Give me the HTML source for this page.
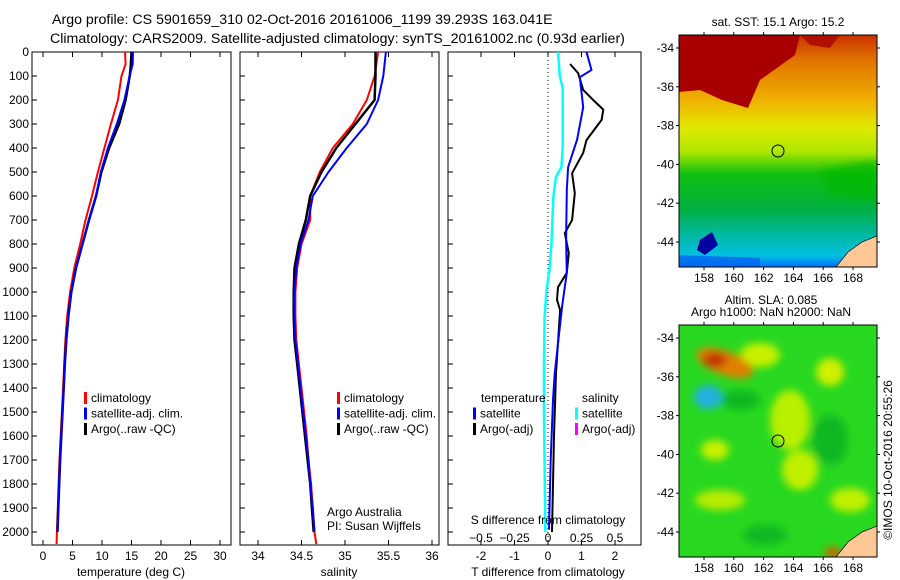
<!DOCTYPE html>
<html><head><meta charset="utf-8"><style>
body{margin:0;background:#fff;}
svg{display:block;font-family:"Liberation Sans",sans-serif;}
text{fill:#000;}
</style></head><body>
<svg id="chart" width="900" height="580" viewBox="0 0 900 580" xmlns="http://www.w3.org/2000/svg">
<defs>
<linearGradient id="sstGrad" x1="0" y1="0" x2="0" y2="1">
<stop offset="0" stop-color="#c83000"/><stop offset="0.1" stop-color="#e07000"/><stop offset="0.28" stop-color="#f0b000"/><stop offset="0.4" stop-color="#e0e800"/><stop offset="0.5" stop-color="#b0e800"/><stop offset="0.6" stop-color="#10c010"/><stop offset="0.75" stop-color="#00b040"/><stop offset="0.86" stop-color="#00b8a0"/><stop offset="0.95" stop-color="#00c0e0"/><stop offset="1" stop-color="#0070ff"/>
</linearGradient>
<filter id="blur4"><feGaussianBlur stdDeviation="4"/></filter>
<clipPath id="clipM1"><rect x="679" y="35" width="198" height="232"/></clipPath>
<clipPath id="clipM2"><rect x="679" y="325" width="198" height="232"/></clipPath>
</defs>
<g font-size="14.2">
<text x="52" y="24">Argo profile: CS 5901659_310 02-Oct-2016 20161006_1199 39.293S 163.041E</text>
<text x="50" y="43">Climatology: CARS2009. Satellite-adjusted climatology: synTS_20161002.nc (0.93d earlier)</text>
</g>
<g id="p1"></g>
<g id="p2"></g>
<g id="p3"></g>

<g>
<text x="778" y="26" font-size="12" text-anchor="middle">sat. SST: 15.1 Argo: 15.2</text>
<g clip-path="url(#clipM1)">
<rect x="679" y="35" width="198" height="232" fill="url(#sstGrad)"/>
<polygon points="679,35 800,35 795,55 760,80 748,108 722,100 700,90 679,92" fill="#a80000"/>
<polygon points="800,35 840,35 830,48 810,45" fill="#b01000"/>
<polygon points="820,170 877,160 877,200 830,195" fill="#00b800" opacity="0.7" filter="url(#blur4)"/>
<polygon points="700,240 712,232 718,245 705,255 697,250" fill="#0000a0"/>
<polygon points="679,255 760,258 760,267 679,267" fill="#0060f0" opacity="0.7"/>
<polygon points="836,267 848,252 862,242 877,236 877,267" fill="#fdc896" stroke="#000" stroke-width="0.7"/>
</g>
<rect x="679" y="35" width="198" height="232" fill="none" stroke="#000" stroke-width="1"/>
<circle cx="778" cy="151" r="6" fill="none" stroke="#000" stroke-width="1"/>
<g id="m1ticks"></g>
</g>

<g>
<text x="771" y="304" font-size="12" text-anchor="middle">Altim. SLA: 0.085</text>
<text x="771" y="316" font-size="12" text-anchor="middle">Argo h1000: NaN h2000: NaN</text>
<g clip-path="url(#clipM2)">
<rect x="679" y="325" width="198" height="232" fill="#28d820"/>
<g filter="url(#blur4)">
<ellipse cx="760" cy="355" rx="20" ry="12" fill="#c8f000"/>
<ellipse cx="830" cy="372" rx="14" ry="14" fill="#d0f000"/>
<ellipse cx="790" cy="420" rx="20" ry="30" fill="#b8f000"/>
<ellipse cx="715" cy="450" rx="14" ry="10" fill="#c8f000"/>
<ellipse cx="800" cy="470" rx="18" ry="20" fill="#c0f000"/>
<ellipse cx="850" cy="500" rx="20" ry="12" fill="#c0f000"/>
<ellipse cx="720" cy="500" rx="25" ry="10" fill="#b8ec00"/>
<ellipse cx="740" cy="400" rx="20" ry="10" fill="#10b820"/>
<ellipse cx="830" cy="440" rx="18" ry="25" fill="#10b820"/>
<ellipse cx="765" cy="535" rx="22" ry="10" fill="#10b820"/>
<ellipse cx="725" cy="363" rx="30" ry="12" fill="#e08000" transform="rotate(20 725 363)"/>
<ellipse cx="715" cy="360" rx="12" ry="7" fill="#c03000"/>
<ellipse cx="708" cy="397" rx="14" ry="12" fill="#20b0e0"/>
<ellipse cx="833" cy="553" rx="8" ry="6" fill="#d06000"/>
</g>
<polygon points="836,557 848,542 862,532 877,526 877,557" fill="#fdc896" stroke="#000" stroke-width="0.7"/>
</g>
<rect x="679" y="325" width="198" height="232" fill="none" stroke="#000" stroke-width="1"/>
<circle cx="778" cy="441" r="6" fill="none" stroke="#000" stroke-width="1"/>
<g id="m2ticks"></g>
</g>
<text transform="translate(892 460) rotate(-90)" font-size="12" text-anchor="middle">©IMOS 10-Oct-2016 20:55:26</text>
</svg>
<script>
// ---- data ----
const depthTicks = [0,100,200,300,400,500,600,700,800,900,1000,1100,1200,1300,1400,1500,1600,1700,1800,1900,2000];
const tempTicks = [0,5,10,15,20,25,30];
const salTicks = [34,34.5,35,35.5,36];
const tdiffTicks = [-2,-1,0,1,2];
const sdiffTicks = [-0.5,-0.25,0,0.25,0.5];

const tDepth = [0,50,80,100,200,300,400,500,600,700,800,900,1000,1100,1200,1300,1400,1500,1600,1700,1800,1900,2000,2050];
const tClim =  [13.9,14.0,13.6,13.3,12.7,11.5,10.4,9.3,8.3,7.2,6.3,5.3,4.6,4.1,3.8,3.6,3.4,3.2,3.0,2.8,2.65,2.5,2.35,2.3];
const tSat =   [15.25,15.2,14.9,14.7,13.8,12.5,11.0,9.8,9.0,7.8,6.7,5.6,4.8,4.3,3.95,3.7,3.5,3.3,3.1,2.9,2.75,2.6,2.45,null];
const tArgo =  [15.0,14.9,14.8,14.7,14.0,12.9,11.2,9.9,9.0,7.8,6.7,5.6,4.8,4.3,3.95,3.7,3.5,3.3,3.1,2.9,2.75,2.6,2.45,null];

const sDepth = [0,100,200,300,400,500,600,700,800,900,1000,1100,1200,1300,1400,1500,1600,1700,1800,1900,2000,2050];
const sClim = [35.38,35.34,35.25,35.09,34.86,34.71,34.6,34.6,34.5,34.45,34.43,34.43,34.44,34.47,34.5,34.53,34.56,34.58,34.61,34.63,34.65,34.67];
const sSat =  [35.47,35.44,35.38,35.25,35.02,34.81,34.63,34.58,34.49,34.44,34.42,34.42,34.43,34.46,34.49,34.52,34.55,34.58,34.6,34.63,34.65,null];
const sArgo = [35.35,35.35,35.34,35.12,34.9,34.73,34.6,34.55,34.47,34.42,34.41,34.41,34.42,34.45,34.48,34.51,34.54,34.57,34.6,34.62,34.64,null];

const dTDepthSat = [0,75,105,230,365,480,575,783,920,1060,1340,1450,1700,1990];
const dTSat =      [1.15,1.3,0.95,1.05,0.87,0.6,0.56,0.54,0.56,0.42,0.2,0.15,0.08,0.03];
const dTDepthArgo = [50,88,158,200,240,283,367,420,505,588,700,755,838,920,980,1033,1075,1340,1600,2000];
const dTArgo =      [0.66,0.9,1.05,1.35,1.65,1.6,1.15,1.05,0.72,0.8,0.72,0.5,0.62,0.56,0.3,0.27,0.36,0.24,0.18,0.12];
const dSDepth = [0,100,150,250,400,480,520,600,800,900,1000,1100,1300,1500,2000];
const dSSat =   [0.075,0.088,0.11,0.11,0.11,0.1,0.06,0.04,0.025,0.012,-0.012,-0.025,-0.03,-0.03,-0.02];

// ---- helpers ----
const NS = "http://www.w3.org/2000/svg";
const yD = d => 52 + d*0.24;
const xT = v => 43 + v*5.9;
const xS = v => 258 + (v-34)*87;
const xDT = v => 548 + v*33.5;
const xDS = v => 548 + v*134;
function mk(parent, tag, attrs, txt){
  const el = document.createElementNS(NS, tag);
  for (const k in attrs) el.setAttribute(k, attrs[k]);
  if (txt !== undefined) el.textContent = txt;
  parent.appendChild(el); return el;
}
function line(parent, xs, ds, xf, color, w, name){
  let d = "", pen = false;
  for (let i=0;i<xs.length;i++){
    if (xs[i]===null){pen=false;continue;}
    d += (pen?"L":"M") + xf(xs[i]).toFixed(1) + "," + yD(ds[i]).toFixed(1);
    pen = true;
  }
  const p = mk(parent,"path",{d:d,fill:"none",stroke:color,"stroke-width":w,"stroke-linejoin":"round"});
  
  
}
function panel(g, x0, x1, xticks, xf, xlab, yLabels){
  const fr = mk(g,"rect",{x:x0,y:52,width:x1-x0,height:493,fill:"none",stroke:"#000","stroke-width":1});
  
  
  depthTicks.forEach(d=>{
    mk(g,"line",{x1:x0,x2:x0+5,y1:yD(d),y2:yD(d),stroke:"#000"});
    if (yLabels){
      const t = mk(g,"text",{x:x0-3,y:yD(d)+4,"font-size":12,"text-anchor":"end"}, String(d));
      
      
    }
  });
  xticks.forEach(v=>{
    const x = xf(v);
    mk(g,"line",{x1:x,x2:x,y1:545,y2:540,stroke:"#000"});
    mk(g,"line",{x1:x,x2:x,y1:52,y2:57,stroke:"#000"});
    if (xlab){
      const t = mk(g,"text",{x:x,y:560,"font-size":12,"text-anchor":"middle"}, String(v));
      
      
    }
  });
}
function legend(g, x, y, items){
  items.forEach((it,i)=>{
    const yy = y + i*15.5;
    mk(g,"rect",{x:x,y:yy-10,width:3,height:12,fill:it[1]});
    const t = mk(g,"text",{x:x+7,y:yy,"font-size":12}, it[0]);
    
    
  });
}

// panel 1
const p1 = document.getElementById("p1");
panel(p1, 32, 231, tempTicks, xT, true, true);
line(p1, tClim, tDepth, xT, "#f00", 2, "temp-climatology-line");
line(p1, tArgo, tDepth, xT, "#000", 2.5, "temp-argo-line");
line(p1, tSat, tDepth, xT, "#00f", 2, "temp-satellite-line");
legend(p1, 84, 402, [["climatology","#f00"],["satellite-adj. clim.","#00f"],["Argo(..raw -QC)","#000"]]);
let t = mk(p1,"text",{x:131,y:576,"font-size":12,"text-anchor":"middle"},"temperature (deg C)");
 

// panel 2
const p2 = document.getElementById("p2");
panel(p2, 240, 439, salTicks, xS, true, false);
line(p2, sClim, sDepth, xS, "#f00", 2, "sal-climatology-line");
line(p2, sArgo, sDepth, xS, "#000", 2.5, "sal-argo-line");
line(p2, sSat, sDepth, xS, "#00f", 2, "sal-satellite-line");
legend(p2, 337, 402, [["climatology","#f00"],["satellite-adj. clim.","#00f"],["Argo(..raw -QC)","#000"]]);
t = mk(p2,"text",{x:327,y:516,"font-size":12},"Argo Australia");
 
t = mk(p2,"text",{x:327,y:530,"font-size":12},"PI: Susan Wijffels");
 
t = mk(p2,"text",{x:339,y:576,"font-size":12,"text-anchor":"middle"},"salinity");
 

// panel 3
const p3 = document.getElementById("p3");
panel(p3, 448, 641, tdiffTicks, xDT, true, false);
mk(p3,"line",{x1:548,x2:548,y1:52,y2:545,stroke:"#000","stroke-dasharray":"1,3"});
line(p3, dSSat, dSDepth, xDS, "#0ff", 2.5, "sal-diff-satellite-line");
line(p3, dTArgo, dTDepthArgo, xDT, "#000", 2, "temp-diff-argo-line");
line(p3, dTSat, dTDepthSat, xDT, "#00f", 2, "temp-diff-satellite-line");
t = mk(p3,"text",{x:481,y:402,"font-size":12},"temperature");
 
t = mk(p3,"text",{x:582,y:402,"font-size":12},"salinity");
 
legend(p3, 473, 417.5, [["satellite","#00f"],["Argo(-adj)","#000"]]);
legend(p3, 575, 417.5, [["satellite","#0ff"],["Argo(-adj)","#f0f"]]);
sdiffTicks.forEach(v=>{
  const tt = mk(p3,"text",{x:xDS(v),y:542,"font-size":12,"text-anchor":"middle"}, v===0?"0":String(v).replace("-","\u2212"));
  
  
});
t = mk(p3,"text",{x:548,y:524,"font-size":12,"text-anchor":"middle"},"S difference from climatology");
 
t = mk(p3,"text",{x:548,y:576,"font-size":12,"text-anchor":"middle"},"T difference from climatology");
 

// map ticks
const lats = [-34,-36,-38,-40,-42,-44];
const lons = [158,160,162,164,166,168];
function mapTicks(id, top, bottom, latY0){
  const g = document.getElementById(id);
  lats.forEach(la=>{
    const y = latY0 + (-34-la)*19.4;
    mk(g,"line",{x1:679,x2:676,y1:y,y2:y,stroke:"#000"});
    mk(g,"line",{x1:877,x2:880,y1:y,y2:y,stroke:"#000"});
    const tt = mk(g,"text",{x:674,y:y+4,"font-size":12,"text-anchor":"end"}, String(la));
    
    
  });
  lons.forEach(lo=>{
    const x = 704 + (lo-158)*14.9;
    mk(g,"line",{x1:x,x2:x,y1:top,y2:top-3,stroke:"#000"});
    mk(g,"line",{x1:x,x2:x,y1:bottom,y2:bottom+3,stroke:"#000"});
    const tt = mk(g,"text",{x:x,y:bottom+15,"font-size":12,"text-anchor":"middle"}, String(lo));
    
    
  });
}
mapTicks("m1ticks", 35, 267, 48);
mapTicks("m2ticks", 325, 557, 338);
</script>
</body></html>
